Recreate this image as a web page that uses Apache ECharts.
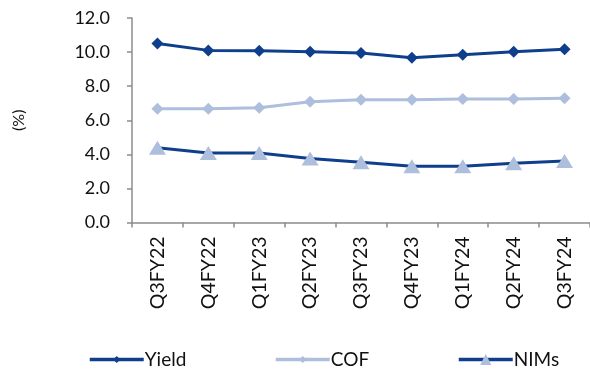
<!DOCTYPE html>
<html><head><meta charset="utf-8">
<script src="https://cdn.jsdelivr.net/npm/echarts@6/dist/echarts.min.js"></script>
<style>html,body{margin:0;padding:0;background:#fff}#c{width:590px;height:372px}</style>
</head><body><div id="c"></div>
<script>
var categories = ['Q3FY22','Q4FY22','Q1FY23','Q2FY23','Q3FY23','Q4FY23','Q1FY24','Q2FY24','Q3FY24'];
var yieldVals = [10.5, 10.1, 10.08, 10.02, 9.94, 9.67, 9.85, 10.02, 10.16];
var cofVals = [6.67, 6.67, 6.73, 7.08, 7.2, 7.2, 7.25, 7.25, 7.29];
var nimVals = [4.38, 4.08, 4.08, 3.75, 3.53, 3.3, 3.3, 3.47, 3.61];
var yTicks = [0, 2, 4, 6, 8, 10, 12];

var dark = '#0f3f8c', light = '#aebedd', font = 'Lato';
var legText = {fontSize: 19, color: '#111', fontFamily: font, padding: [0,0,0,-4]};
var chart = echarts.init(document.getElementById('c'));
chart.setOption({
  animation: false,
  textStyle: {fontFamily: font, color: '#111'},
  grid: {left: 132, top: 18, width: 459, height: 204.5},
  xAxis: {
    type: 'category', data: categories, boundaryGap: true,
    axisLine: {lineStyle: {color: '#8c8c8c', width: 1.5}},
    axisTick: {show: true, length: 5, lineStyle: {color: '#8c8c8c', width: 1.5}},
    axisLabel: {rotate: 90, margin: 14, fontSize: 19.5, color: '#111', fontFamily: font}
  },
  yAxis: {
    type: 'value', min: yTicks[0], max: yTicks[yTicks.length-1], interval: 2,
    name: '(%)', nameLocation: 'middle', nameGap: 105, nameRotate: 90,
    nameTextStyle: {fontSize: 16, color: '#111', fontFamily: font},
    splitLine: {show: false},
    axisLine: {show: true, lineStyle: {color: '#8c8c8c', width: 1.5}},
    axisTick: {show: true, length: 5, lineStyle: {color: '#8c8c8c', width: 1.5}},
    axisLabel: {margin: 22, fontSize: 18, color: '#111', fontFamily: font, formatter: function(v){return v.toFixed(1);}}
  },
  legend: [
    {left: 83, top: 345, itemWidth: 54, itemHeight: 9, lineStyle: {width: 3.5}, data: [{name: 'Yield'}], textStyle: legText},
    {left: 269, top: 345, itemWidth: 54, itemHeight: 9, lineStyle: {width: 3.5}, data: [{name: 'COF'}], textStyle: legText},
    {left: 452, top: 345, itemWidth: 54, itemHeight: 14, lineStyle: {width: 3.5}, data: [{name: 'NIMs'}], textStyle: legText}
  ],
  series: [
    {name: 'Yield', type: 'line', data: yieldVals, symbol: 'diamond', symbolSize: 12,
     lineStyle: {color: dark, width: 3}, itemStyle: {color: dark}, z: 3},
    {name: 'COF', type: 'line', data: cofVals, symbol: 'diamond', symbolSize: 12,
     lineStyle: {color: light, width: 3}, itemStyle: {color: light}, z: 2},
    {name: 'NIMs', type: 'line', data: nimVals, symbol: 'triangle', symbolSize: [17, 14],
     lineStyle: {color: dark, width: 3}, itemStyle: {color: light}, z: 2}
  ]
});
</script></body></html>
